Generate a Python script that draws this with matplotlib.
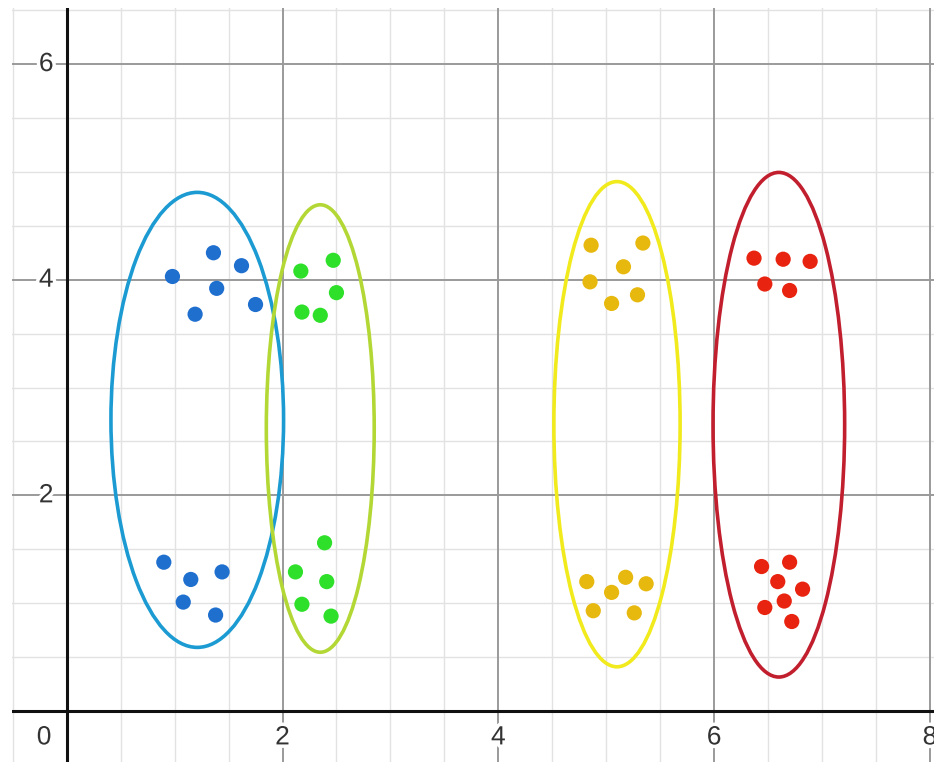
import matplotlib.pyplot as plt
from matplotlib.patches import Ellipse
import matplotlib.patheffects as pe
import numpy as np

# points in each group
blue_x = [0.98, 1.36, 1.62, 1.39, 1.19, 1.75, 0.90, 1.15, 1.44, 1.08, 1.38]
blue_y = [4.03, 4.25, 4.13, 3.92, 3.68, 3.77, 1.38, 1.22, 1.29, 1.01, 0.89]

green_x = [2.17, 2.47, 2.50, 2.18, 2.35, 2.39, 2.12, 2.41, 2.18, 2.45]
green_y = [4.08, 4.18, 3.88, 3.70, 3.67, 1.56, 1.29, 1.20, 0.99, 0.88]

yellow_x = [4.86, 5.34, 5.16, 4.85, 5.29, 5.05, 4.82, 5.18, 5.37, 5.05, 4.88, 5.26]
yellow_y = [4.32, 4.34, 4.12, 3.98, 3.86, 3.78, 1.20, 1.24, 1.18, 1.10, 0.93, 0.91]

red_x = [6.37, 6.64, 6.89, 6.47, 6.70, 6.44, 6.70, 6.59, 6.82, 6.65, 6.47, 6.72]
red_y = [4.20, 4.19, 4.17, 3.96, 3.90, 1.34, 1.38, 1.20, 1.13, 1.02, 0.96, 0.83]

# enclosing ellipses: center x, center y, semi-axis x, semi-axis y
ell_cx = [1.21, 2.35, 5.10, 6.60]
ell_cy = [2.70, 2.62, 2.66, 2.655]
ell_ax = [0.80, 0.50, 0.585, 0.61]
ell_ay = [2.11, 2.075, 2.25, 2.34]

tick_vals = [2, 4, 6, 8]

dot_colors = ["#1f6fcf", "#2fe02a", "#e7b80e", "#e8230f"]
ring_colors = ["#1c9bd3", "#b3d835", "#f1ea1c", "#c21f2e"]

fig = plt.figure(figsize=(9.34, 7.62), dpi=100)
ax = fig.add_axes([12 / 934, 0, 922 / 934, 754 / 762])

ax.set_xlim(-0.507, 8.038)
ax.set_ylim(-0.473, 6.52)

# grid
for v in np.arange(-0.5, 8.5, 0.5):
    major = abs(v - round(v / 2) * 2) < 1e-9
    ax.axvline(v, color="#9a9a9a" if major else "#e2e2e2",
               lw=1.4 if major else 1.0, zorder=1 if major else 0)
for v in np.arange(-0.5, 7.0, 0.5):
    major = abs(v - round(v / 2) * 2) < 1e-9
    ax.axhline(v, color="#9a9a9a" if major else "#e2e2e2",
               lw=1.4 if major else 1.0, zorder=1 if major else 0)

ax.axhline(0, color="#111111", lw=2.2, zorder=2)
ax.axvline(0, color="#111111", lw=2.2, zorder=2)

halo = [pe.withStroke(linewidth=5, foreground="white")]
for t in tick_vals:
    ax.text(t, -0.245, str(t), ha="center", va="center", fontsize=19,
            color="#333333", family="Liberation Sans", path_effects=halo,
            zorder=3, clip_on=True)
for t in [2, 4, 6]:
    ax.text(-0.19, t, str(t), ha="center", va="center", fontsize=19,
            color="#333333", family="Liberation Sans", path_effects=halo,
            zorder=3)
ax.text(-0.21, -0.245, "0", ha="center", va="center", fontsize=19,
        color="#333333", family="Liberation Sans", path_effects=halo, zorder=3)

# ellipses
for cx, cy, a, b, c in zip(ell_cx, ell_cy, ell_ax, ell_ay, ring_colors):
    ax.add_patch(Ellipse((cx, cy), 2 * a, 2 * b, fill=False,
                         edgecolor=c, lw=2.6, zorder=4))

# dots
groups = [(blue_x, blue_y), (green_x, green_y),
          (yellow_x, yellow_y), (red_x, red_y)]
for (gx, gy), c in zip(groups, dot_colors):
    ax.scatter(gx, gy, s=120, color=c, edgecolors="none", zorder=5)

ax.set_xticks([])
ax.set_yticks([])
for s in ax.spines.values():
    s.set_visible(False)

fig.savefig("out.png", dpi=100)
plt.close()
